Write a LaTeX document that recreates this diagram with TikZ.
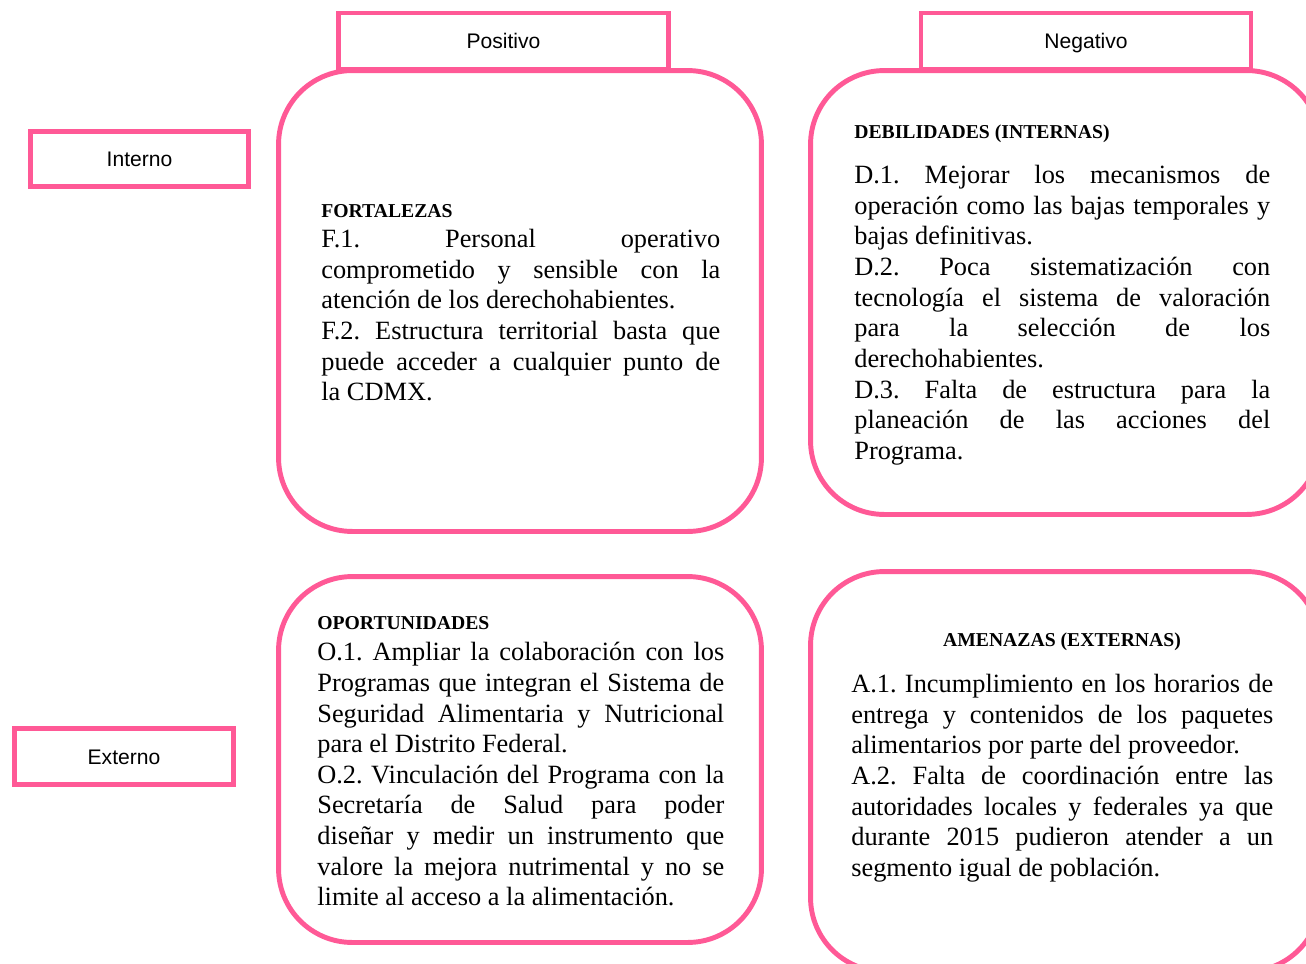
\documentclass[tikz,border=0pt]{standalone}
\usepackage{fontspec}
\setmainfont{Liberation Serif}
\newfontfamily\labelfont{Liberation Sans}
\setlength{\parindent}{0pt}
\frenchspacing
\definecolor{swotpink}{RGB}{255,89,150}

\tikzset{
  tab/.style={draw=swotpink, line width=2.8pt, fill=white,
    minimum width=6.6cm, minimum height=1.12cm,
    text height=10pt, text depth=1.2pt,
    font=\labelfont\fontsize{12}{14}\selectfont},
  side/.style={draw=swotpink, line width=2.8pt, fill=white,
    minimum width=4.37cm, minimum height=1.11cm,
    text height=10pt, text depth=1.2pt,
    font=\labelfont\fontsize{12}{14}\selectfont},
  quad/.style={draw=swotpink, line width=2.8pt, fill=white,
    rounded corners=42pt},
  head/.style={inner sep=0pt, anchor=west,
    font=\bfseries\fontsize{11.2}{13}\selectfont},
  body/.style={inner sep=0pt, anchor=north west, align=justify,
    font=\fontsize{15}{17.45}\selectfont}
}

\begin{document}
\begin{tikzpicture}[x=0.02cm, y=-0.02cm]
  \clip (0,0) rectangle (1306,964);

  % Column tabs
  \node[tab] (pos) at (503.5,41) {Positivo};
  \node[tab] (neg) at (1086,41) {Negativo};

  % Quadrants
  \node[quad, minimum width=9.66cm, minimum height=9.22cm] (fbox) at (520,301) {};
  \node[quad, minimum width=10.2cm, minimum height=8.88cm] (dbox) at (1065.5,292.5) {};
  \node[quad, minimum width=9.66cm, minimum height=7.32cm] (obox) at (520,759.5) {};
  \node[quad, minimum width=10.2cm, minimum height=8.0cm] (abox) at (1065.5,771.5) {};

  % Row labels
  \node[side] (int) at (139.5,159) {Interno};
  \node[side] (ext) at (124,756.5) {Externo};

  % Fortalezas
  \node[head] (fhead) at (321,211) {FORTALEZAS};
  \node[body, text width=7.98cm] (ftext) at (321,229) {F.1. Personal operativo\linebreak
    comprometido y sensible con la\linebreak
    atención de los derechohabientes.\par
    F.2. Estructura territorial basta que\linebreak
    puede acceder a cualquier punto de\linebreak
    la CDMX.};

  % Debilidades
  \node[head] (dhead) at (854,134) {DEBILIDADES (INTERNAS)};
  \node[body, text width=8.32cm] (dtext) at (854,165) {D.1. Mejorar los mecanismos de\linebreak
    operación como las bajas temporales y\linebreak
    bajas definitivas.\par
    D.2. Poca sistematización con\linebreak
    tecnología el sistema de valoración\linebreak
    para la selección de los\linebreak
    derechohabientes.\par
    D.3. Falta de estructura para la\linebreak
    planeación de las acciones del\linebreak
    Programa.};

  % Oportunidades
  \node[head] (ohead) at (317,623) {OPORTUNIDADES};
  \node[body, text width=8.14cm] (otext) at (317,642) {O.1. Ampliar la colaboración con los\linebreak
    Programas que integran el Sistema de\linebreak
    Seguridad Alimentaria y Nutricional\linebreak
    para el Distrito Federal.\par
    O.2. Vinculación del Programa con la\linebreak
    Secretaría de Salud para poder\linebreak
    diseñar y medir un instrumento que\linebreak
    valore la mejora nutrimental y no se\linebreak
    limite al acceso a la alimentación.};

  % Amenazas
  \node[head, anchor=center] (ahead) at (1062,642) {AMENAZAS (EXTERNAS)};
  \node[body, text width=8.44cm] (atext) at (851,674) {A.1. Incumplimiento en los horarios de\linebreak
    entrega y contenidos de los paquetes\linebreak
    alimentarios por parte del proveedor.\par
    A.2. Falta de coordinación entre las\linebreak
    autoridades locales y federales ya que\linebreak
    durante 2015 pudieron atender a un\linebreak
    segmento igual de población.};
\end{tikzpicture}
\end{document}
